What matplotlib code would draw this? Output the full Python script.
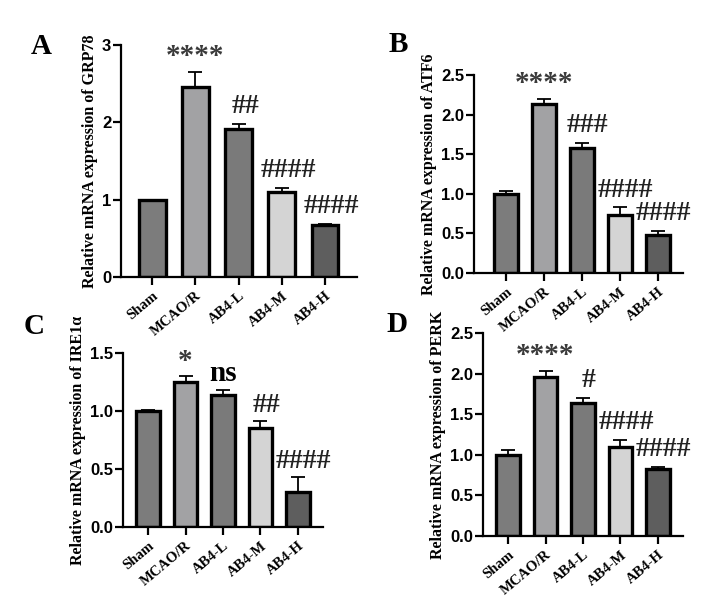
import numpy as np
import matplotlib.pyplot as plt

groups = ['Sham', 'MCAO/R', 'AB4-L', 'AB4-M', 'AB4-H']
bar_colors = ['#7c7c7c', '#a2a2a4', '#7a7a7a', '#d4d4d4', '#5e5e5e']

grp78 = [1.0, 2.46, 1.92, 1.10, 0.67]
grp78_err = [0.0, 0.19, 0.06, 0.05, 0.02]
grp78_marks = ['', '****', '##', '####', '####']

atf6 = [1.0, 2.14, 1.58, 0.73, 0.48]
atf6_err = [0.03, 0.06, 0.06, 0.10, 0.05]
atf6_marks = ['', '****', '###', '####', '####']

ire1 = [1.0, 1.25, 1.14, 0.85, 0.30]
ire1_err = [0.01, 0.05, 0.04, 0.06, 0.13]
ire1_marks = ['', '*', 'ns', '##', '####']

perk = [1.0, 1.96, 1.64, 1.10, 0.82]
perk_err = [0.06, 0.07, 0.06, 0.08, 0.03]
perk_marks = ['', '****', '#', '####', '####']

serif = 'Liberation Serif'
sans = 'Liberation Sans'

W, H = 713, 605
fig = plt.figure(figsize=(W / 100, H / 100), dpi=100)


def px_axes(left, right, bottom, top):
    return fig.add_axes([left / W, (H - bottom) / H, (right - left) / W, (bottom - top) / H])


def panel(ax, vals, errs, marks, ylim, yticks, ylab, xlim, letter, letter_xy, pad):
    x = np.arange(len(groups))
    ax.bar(x, vals, width=0.62, color=bar_colors, edgecolor='black', linewidth=2.4, zorder=2)
    ax.errorbar(x, vals, yerr=[np.zeros(len(vals)), errs], fmt='none', ecolor='black',
                elinewidth=1.3, capsize=5, capthick=1.3, zorder=1)
    for xi, v, e, m in zip(x, vals, errs, marks):
        if not m:
            continue
        if m == 'ns':
            ax.text(xi, v + e + pad, m, ha='center', va='bottom', fontsize=21,
                    family=serif, fontweight='bold', clip_on=False)
        elif m.startswith('*'):
            ax.text(xi, v + e + pad * 0.4, m, ha='center', va='bottom', fontsize=21,
                    family=serif, fontweight='bold', color='#3a3a3a', clip_on=False)
        else:
            ax.text(xi + 0.15, v + e + pad, m, ha='center', va='bottom', fontsize=20,
                    family=serif, fontweight='bold', color='#222222', clip_on=False)
    ax.set_ylim(*ylim)
    ax.set_xlim(*xlim)
    ax.set_yticks(yticks)
    ax.set_yticklabels([('%d' % t) if ylim[1] == 3 else ('%.1f' % t) for t in yticks],
                       family=sans, fontweight='bold', fontsize=12)
    ax.set_xticks(x)
    ax.set_xticklabels(groups, rotation=40, ha='right', rotation_mode='anchor',
                       family=serif, fontweight='bold', fontsize=10.5)
    ax.set_ylabel(ylab, family=serif, fontweight='bold', fontsize=11.5, labelpad=3)
    for s in ['top', 'right']:
        ax.spines[s].set_visible(False)
    for s in ['left', 'bottom']:
        ax.spines[s].set_linewidth(1.6)
    ax.tick_params(axis='y', width=1.6, length=6, pad=1)
    ax.tick_params(axis='x', width=1.6, length=6, pad=3)
    fig.text(letter_xy[0] / W, 1 - letter_xy[1] / H, letter, family=serif,
             fontweight='bold', fontsize=21, ha='center', va='center')


axA = px_axes(121, 357, 277, 45)
panel(axA, grp78, grp78_err, grp78_marks, (0, 3), [0, 1, 2, 3],
      'Relative mRNA expression of GRP78', (-0.72, 4.74), 'A', (41, 47), 0.06)

axB = px_axes(474, 683, 273, 75)
panel(axB, atf6, atf6_err, atf6_marks, (0, 2.5), [0.0, 0.5, 1.0, 1.5, 2.0, 2.5],
      'Relative mRNA expression of ATF6', (-0.84, 4.66), 'B', (398, 45), 0.06)

axC = px_axes(123, 323, 527, 353)
panel(axC, ire1, ire1_err, ire1_marks, (0, 1.5), [0.0, 0.5, 1.0, 1.5],
      'Relative mRNA expression of IRE1\u03b1', (-0.67, 4.67), 'C', (34, 327), 0.03)

axD = px_axes(483, 683, 536, 333)
panel(axD, perk, perk_err, perk_marks, (0, 2.5), [0.0, 0.5, 1.0, 1.5, 2.0, 2.5],
      'Relative mRNA expression of PERK', (-0.67, 4.67), 'D', (397, 325), 0.06)

fig.savefig('out.png', dpi=100)
